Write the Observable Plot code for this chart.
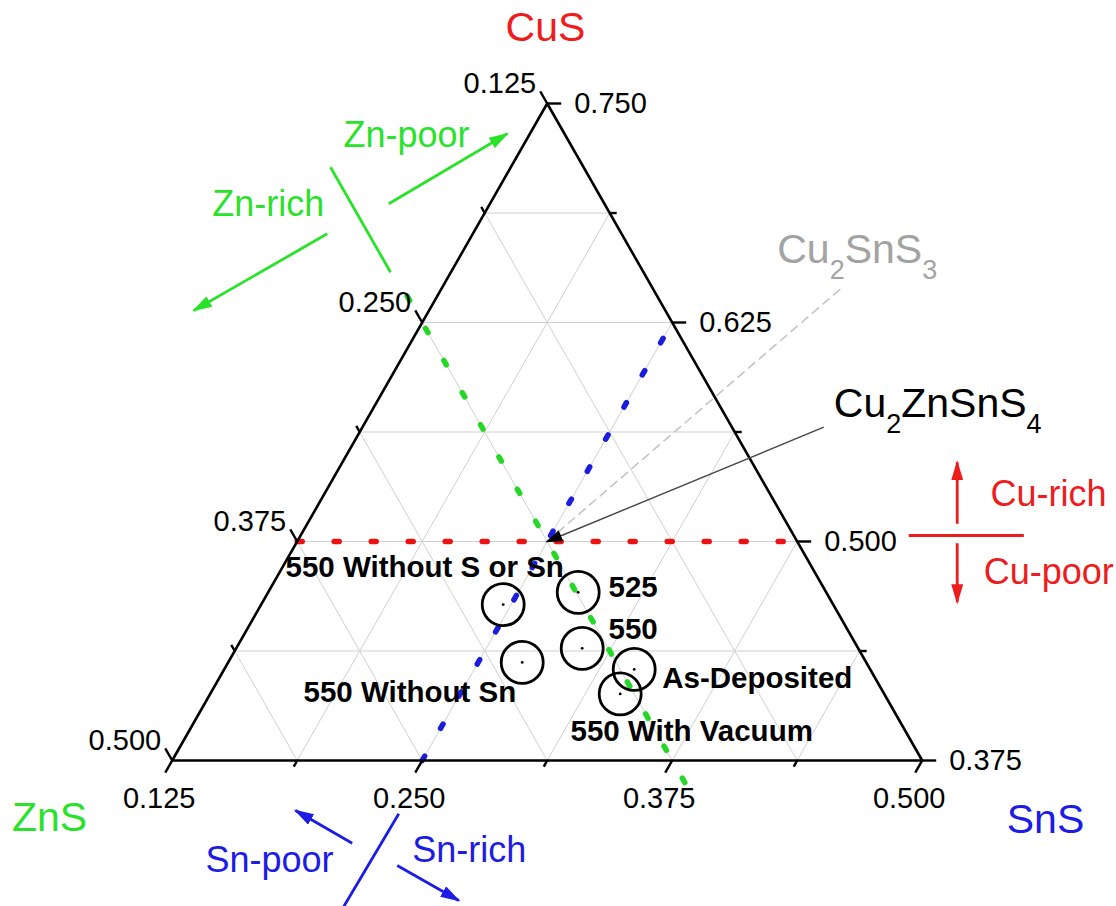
<!DOCTYPE html>
<html><head><meta charset="utf-8">
<script src="https://cdn.jsdelivr.net/npm/d3@7"></script>
<script src="https://cdn.jsdelivr.net/npm/@observablehq/plot@0.6"></script>
<style>html,body{margin:0;padding:0;background:#fff;} #chart svg{display:block}</style>
</head><body><div id="chart"></div>
<script>
// ---------------- data (ternary fractions CuS / ZnS / SnS) ----------------
const samples = ["525", "550", "As-Deposited", "550 With Vacuum", "550 Without Sn", "550 Without S or Sn"];
const cuS = [0.471, 0.439, 0.427, 0.413, 0.431, 0.464];
const znS = [0.249, 0.264, 0.243, 0.257, 0.297, 0.290];
const snS = [0.280, 0.298, 0.330, 0.330, 0.272, 0.246];

// axis ticks
const znsTicks = [0.125, 0.1875, 0.25, 0.3125, 0.375, 0.4375, 0.5];
const snsTicks = [0.125, 0.1875, 0.25, 0.3125, 0.375, 0.4375, 0.5];
const cusTicks = [0.375, 0.4375, 0.5, 0.5625, 0.625, 0.6875, 0.75];
const znsTickLabels = [0.125, 0.25, 0.375, 0.5];
const snsTickLabels = [0.125, 0.25, 0.375, 0.5];
const cusTickLabels = [0.75, 0.625, 0.5, 0.375];

// composition lines: [CuS, SnS] at both ends (ZnS = 1 - CuS - SnS)
const cuLine = [[0.5, 0.125], [0.5, 0.375]];      // CuS = 0.5
const snLine = [[0.375, 0.25], [0.625, 0.25]];    // SnS = 0.25
const znLine = [[0.64, 0.11], [0.36, 0.39]];      // ZnS = 0.25
const cu2sns3Line = [[0.5, 0.25], [0.645, 0.325]];// towards Cu2SnS3
const cztsPoint = [0.5, 0.25];                    // Cu2ZnSnS4 (CuS, SnS)

// label anchors in triangle coordinates (X along base 0..1, Y height 0..1)
const sampleLabelX = [0.5817, 0.5817, 0.6533, 0.5311, 0.1751, 0.1511];
const sampleLabelY = [0.2496, 0.1842, 0.1096, 0.0294, 0.0887, 0.2790];

const titles = [
  {t: "CuS", X: 0.4977, Y: 1.0944, k: "red"},
  {t: "ZnS", X: -0.1636, Y: -0.1076, k: "green"},
  {t: "SnS", X: 1.1644, Y: -0.1096, k: "blue"}
];
const notes = [
  {t: "Zn-poor", X: 0.2284, Y: 0.9335, k: "green"},
  {t: "Zn-rich", X: 0.0533, Y: 0.8295, k: "green"},
  {t: "Cu-rich", X: 1.0911, Y: 0.3881, k: "red"},
  {t: "Cu-poor", X: 1.0821, Y: 0.2690, k: "red"},
  {t: "Sn-poor", X: 0.0444, Y: -0.1700, k: "blue"},
  {t: "Sn-rich", X: 0.3200, Y: -0.1548, k: "blue"}
];
const noteBars = [
  {X1: 0.2111, Y1: 0.9030, X2: 0.2911, Y2: 0.7432, k: "green"},
  {X1: 0.9821, Y1: 0.3425, X2: 1.1355, Y2: 0.3425, k: "red"},
  {X1: 0.3021, Y1: -0.0811, X2: 0.2288, Y2: -0.2222, k: "blue"}
];
const noteArrows = [
  {X1: 0.2888, Y1: 0.8473, X2: 0.4467, Y2: 0.9539, k: "green"},
  {X1: 0.2067, Y1: 0.8017, X2: 0.0288, Y2: 0.6849, k: "green"},
  {X1: 1.0467, Y1: 0.3603, X2: 1.0467, Y2: 0.4540, k: "red"},
  {X1: 1.0467, Y1: 0.3307, X2: 1.0467, Y2: 0.2409, k: "red"},
  {X1: 0.2400, Y1: -0.1259, X2: 0.1644, Y2: -0.0761, k: "blue"},
  {X1: 0.3000, Y1: -0.1598, X2: 0.3821, Y2: -0.2131, k: "blue"}
];
const formulaLabels = [
  {t: "Cu2SnS3", X: 0.8067, Y: 0.7569, k: "#a3a3a3"},
  {t: "Cu2ZnSnS4", X: 0.8821, Y: 0.5225, k: "#000"}
];
const cztsArrowStart = [0.8688, 0.5073];

// ---------------- layout ----------------
const W = 1116, H = 906;
const SX = 750, SY = 657, OX = 171.7, OY = 760;
const FONT = "'Liberation Sans', Arial, Helvetica, sans-serif";
const COL = {red: "#ee1c1c", green: "#2ae22a", blue: "#1c1ce6"};
const ns = "http://www.w3.org/2000/svg";

const tx = (c, s) => (s - 0.125) / 0.375 + ((c - 0.375) / 0.375) / 2;
const ty = (c) => (c - 0.375) / 0.375;
const fmt = d3.format(".3f");
const isMajor = v => Math.abs(v / 0.125 - Math.round(v / 0.125)) < 1e-9;

const points = samples.map((name, i) => ({name, c: cuS[i], z: znS[i], s: snS[i], lx: sampleLabelX[i], ly: sampleLabelY[i]}));

// grid lines
const grid = [];
for (const c of cusTicks.slice(1, -1)) grid.push({c1: c, s1: 0.125, c2: c, s2: 0.875 - c});
for (const s of snsTicks.slice(1, -1)) grid.push({c1: 0.875 - s, s1: s, c2: 0.375, s2: s});
for (const z of znsTicks.slice(1, -1)) grid.push({c1: 0.875 - z, s1: 0.125, c2: 0.375, s2: 0.625 - z});

// ticks (edge point + pixel direction)
const ticks = [
  ...znsTicks.map(z => ({v: z, c: 0.875 - z, s: 0.125, ux: -0.4957, uy: -0.8685})),
  ...snsTicks.map(s => ({v: s, c: 0.375, s, ux: -0.4957, uy: 0.8685})),
  ...cusTicks.map(c => ({v: c, c, s: 0.875 - c, ux: 1, uy: 0}))
].map(d => {
  const L = isMajor(d.v) ? 14 : 7;
  const X = tx(d.c, d.s), Y = ty(d.c);
  return {X1: X, Y1: Y, X2: X + d.ux * L / SX, Y2: Y - d.uy * L / SY};
});

const triangle = [[0.75, 0.125], [0.375, 0.125], [0.375, 0.5], [0.75, 0.125]];

function solidArrow(len, wid, fill) {
  return (color) => {
    const m = document.createElementNS(ns, "marker");
    m.setAttribute("viewBox", `${-len} ${-wid / 2} ${len} ${wid}`);
    m.setAttribute("markerWidth", len);
    m.setAttribute("markerHeight", wid);
    m.setAttribute("markerUnits", "userSpaceOnUse");
    m.setAttribute("orient", "auto");
    m.setAttribute("refX", -2);
    m.setAttribute("refY", 0);
    const p = document.createElementNS(ns, "path");
    p.setAttribute("d", `M${-len},${-wid / 2}L0,0L${-len},${wid / 2}Z`);
    p.setAttribute("fill", fill || color);
    p.setAttribute("stroke", "none");
    m.appendChild(p);
    return m;
  };
}

const dashed = (pts, color) => Plot.line(pts, {
  x: d => tx(d[0], d[1]), y: d => ty(d[0]),
  stroke: color, strokeWidth: 5.5, strokeDasharray: "5,32", strokeLinecap: "round"
});

const chart = Plot.plot({
  width: W, height: H, margin: 0,
  x: {domain: [-OX / SX, (W - OX) / SX], range: [0, W], axis: null},
  y: {domain: [(OY - H) / SY, OY / SY], range: [H, 0], axis: null},
  style: {fontFamily: FONT, background: "#fff", overflow: "visible"},
  marks: [
    Plot.link(grid, {x1: d => tx(d.c1, d.s1), y1: d => ty(d.c1), x2: d => tx(d.c2, d.s2), y2: d => ty(d.c2), stroke: "#d0d0d0", strokeWidth: 1}),
    Plot.line(cu2sns3Line, {x: d => tx(d[0], d[1]), y: d => ty(d[0]), stroke: "#c4c4c4", strokeWidth: 1.6, strokeDasharray: "8,6"}),
    dashed(cuLine, "#ee1111"),
    dashed(snLine, "#1c1cdd"),
    dashed(znLine, "#26d826"),
    Plot.line(triangle, {x: d => tx(d[0], d[1]), y: d => ty(d[0]), stroke: "#000", strokeWidth: 2.6, strokeLinejoin: "miter"}),
    Plot.link(ticks, {x1: "X1", y1: "Y1", x2: "X2", y2: "Y2", stroke: "#000", strokeWidth: 2.4}),
    // tick labels
    Plot.text(znsTickLabels, {x: z => tx(0.875 - z, 0.125), y: z => ty(0.875 - z), text: fmt, textAnchor: "end", lineAnchor: "bottom", dx: -11, dy: -11, fontSize: 29, fill: "#000"}),
    Plot.text(snsTickLabels, {x: s => tx(0.375, s), y: () => ty(0.375), text: fmt, textAnchor: "middle", lineAnchor: "bottom", dx: -13, dy: 47, fontSize: 29, fill: "#000"}),
    Plot.text(cusTickLabels, {x: c => tx(c, 0.875 - c), y: c => ty(c), text: fmt, textAnchor: "start", lineAnchor: "bottom", dx: 27, dy: 9, fontSize: 29, fill: "#000"}),
    // samples
    Plot.dot(points, {x: d => tx(d.c, d.s), y: d => ty(d.c), r: 21, stroke: "#000", strokeWidth: 2.8, fill: "none"}),
    Plot.dot(points, {x: d => tx(d.c, d.s), y: d => ty(d.c), r: 1.4, fill: "#000", stroke: "none"}),
    Plot.text(points, {x: "lx", y: "ly", text: "name", textAnchor: "start", lineAnchor: "bottom", fontSize: 29.5, fontWeight: "bold", fill: "#000"}),
    // Cu2ZnSnS4 pointer
    Plot.link([0], {x1: () => cztsArrowStart[0], y1: () => cztsArrowStart[1], x2: () => tx(cztsPoint[0], cztsPoint[1]), y2: () => ty(cztsPoint[0]), stroke: "#444", strokeWidth: 1.4, markerEnd: solidArrow(17, 12, "#000")}),
    Plot.text(formulaLabels, {x: "X", y: "Y", text: "t", fill: "k", textAnchor: "start", lineAnchor: "bottom", fontSize: 41}),
    // annotations
    Plot.link(noteBars, {x1: "X1", y1: "Y1", x2: "X2", y2: "Y2", stroke: d => COL[d.k], strokeWidth: 2.8}),
    Plot.link(noteArrows, {x1: "X1", y1: "Y1", x2: "X2", y2: "Y2", stroke: d => COL[d.k], strokeWidth: 2.8, markerEnd: solidArrow(20, 12)}),
    Plot.text(notes, {x: "X", y: "Y", text: "t", fill: d => COL[d.k], textAnchor: "start", lineAnchor: "bottom", fontSize: 36}),
    Plot.text(titles, {x: "X", y: "Y", text: "t", fill: d => COL[d.k], textAnchor: "middle", lineAnchor: "bottom", fontSize: 41})
  ]
});

// chemical subscripts
chart.querySelectorAll("text").forEach(t => {
  const s = t.textContent;
  if (!/^Cu\d/.test(s)) return;
  const parts = s.match(/[A-Za-z]+|\d+/g);
  t.textContent = "";
  let prevSub = false;
  for (const p of parts) {
    const ts = document.createElementNS(ns, "tspan");
    const num = /^\d+$/.test(p);
    if (num) { ts.setAttribute("font-size", "27px"); ts.setAttribute("dy", "16"); }
    else if (prevSub) ts.setAttribute("dy", "-16");
    prevSub = num;
    ts.textContent = p;
    t.appendChild(ts);
  }
});

document.getElementById("chart").appendChild(chart);
</script>
</body></html>
